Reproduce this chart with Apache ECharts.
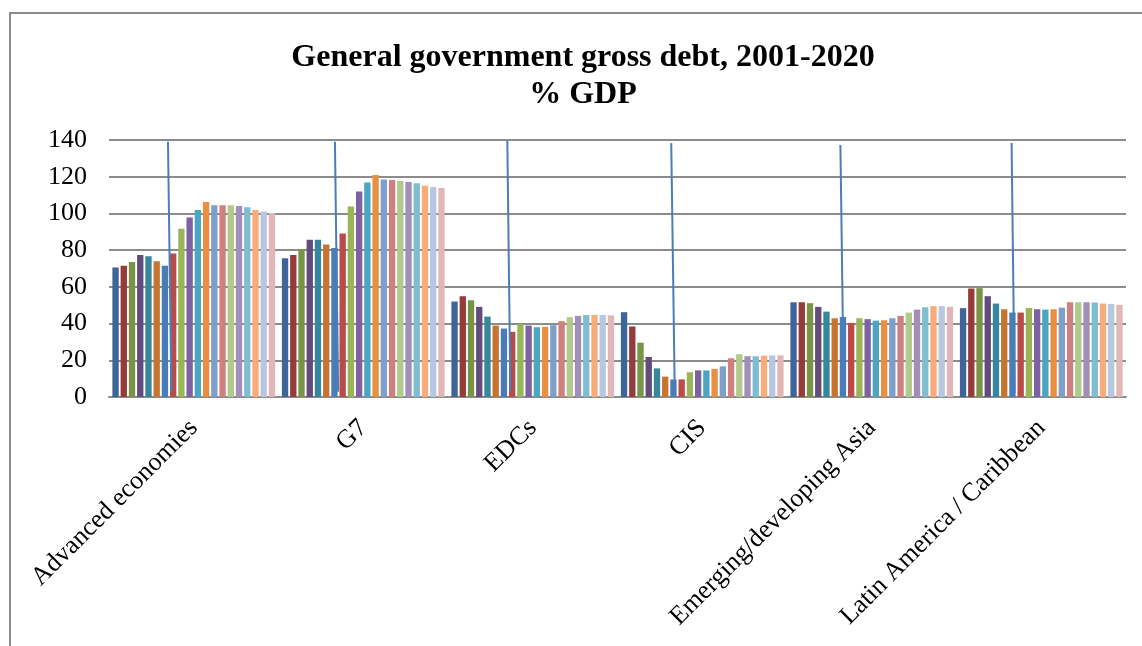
<!DOCTYPE html>
<html>
<head>
<meta charset="utf-8">
<title>General government gross debt, 2001-2020</title>
<script src="https://cdn.jsdelivr.net/npm/echarts@6/dist/echarts.min.js"></script>
<style>
  html, body { margin: 0; padding: 0; background: #fff; }
  #chart { width: 1142px; height: 646px; }
</style>
</head>
<body>
<div id="chart"></div>
<script>
// Regions on the category axis
const regions = ['Advanced economies', 'G7', 'EDCs', 'CIS', 'Emerging/developing Asia', 'Latin America / Caribbean'];

// One bar per year inside each region group
const years = ['2001', '2002', '2003', '2004', '2005', '2006', '2007', '2008', '2009', '2010',
               '2011', '2012', '2013', '2014', '2015', '2016', '2017', '2018', '2019', '2020'];

// Gross debt, % of GDP, 2001-2020, by region
const advanced = [70.5, 71.5, 73.5, 77.3, 76.7, 74.0, 71.5, 78.2, 91.6, 97.8, 101.8, 106.2, 104.4, 104.4, 104.4, 104.0, 103.3, 101.8, 101.1, 100.2];
const g7       = [75.6, 77.3, 80.5, 85.6, 85.6, 83.1, 81.1, 89.1, 103.8, 112.0, 116.9, 120.9, 118.5, 118.2, 117.6, 117.1, 116.4, 115.1, 114.4, 113.8];
const edcs     = [52.0, 54.9, 52.7, 49.1, 43.8, 38.9, 37.3, 35.5, 39.8, 38.9, 38.0, 38.2, 39.1, 41.3, 43.5, 44.2, 44.7, 44.7, 44.7, 44.5];
const cis      = [46.2, 38.4, 29.6, 21.8, 15.6, 11.1, 9.5, 9.6, 13.5, 14.5, 14.5, 15.3, 16.7, 21.1, 23.3, 22.2, 22.2, 22.5, 22.7, 22.7];
const asia     = [51.6, 51.6, 51.1, 49.1, 46.5, 42.9, 43.6, 40.4, 42.9, 42.4, 41.6, 41.8, 42.9, 44.2, 46.0, 47.6, 48.9, 49.5, 49.5, 49.1];
const latam    = [48.4, 59.1, 59.3, 54.9, 50.9, 47.8, 46.0, 46.0, 48.5, 47.8, 47.6, 47.8, 48.7, 51.6, 51.6, 51.6, 51.5, 50.9, 50.7, 50.2];

// Value-axis tick labels
const yTicks = [0, 20, 40, 60, 80, 100, 120, 140];

// Vertical pointer lines, one per region: [[x, % GDP] top, [x, % GDP] bottom], x in region units
const pointerLines = [
  [[0.348, 139.1], [0.368, 2.9]],
  [[1.333, 139.0], [1.352, 2.9]],
  [[2.350, 139.5], [2.368, 3.3]],
  [[3.317, 138.3], [3.338, 2.0]],
  [[4.315, 137.3], [4.335, 2.9]],
  [[5.325, 138.4], [5.343, 2.0]]
];

const palette = ['#3e6597', '#963b39', '#789445', '#634b7d', '#37879c', '#c8742f',
                 '#4a7cb8', '#b94b48', '#99b557', '#7d61a0', '#4ba7c0', '#ea8f3f',
                 '#7f9fcb', '#cf7f7d', '#b1c98a', '#a18eb9', '#7ebdd2', '#f9ac78',
                 '#b8c6e0', '#e0b7b6'];

const regionValues = [advanced, g7, edcs, cis, asia, latam];

const serif = '"Liberation Serif", "Times New Roman", serif';

const barSeries = years.map((yr, i) => ({
  name: yr,
  type: 'bar',
  xAxisIndex: 0,
  yAxisIndex: 0,
  barGap: '30%',
  barCategoryGap: '4%',
  itemStyle: { color: palette[i] },
  data: regionValues.map(v => v[i]),
  z: 2
}));

const chart = echarts.init(document.getElementById('chart'), null, { renderer: 'canvas' });

chart.setOption({
  animation: false,
  backgroundColor: '#ffffff',
  title: {
    text: 'General government gross debt, 2001-2020\n% GDP',
    left: 578,
    top: 34,
    textAlign: 'center',
    textStyle: {
      fontFamily: serif,
      fontWeight: 'bold',
      fontSize: 32,
      lineHeight: 37,
      color: '#000'
    }
  },
  graphic: [{
    type: 'rect',
    shape: { x: 10, y: 13, width: 1300, height: 800 },
    style: { fill: 'none', stroke: '#8c8c8c', lineWidth: 2 },
    silent: true,
    z: -1
  }],
  grid: { left: 109, right: 16, top: 140, bottom: 249, containLabel: false },
  xAxis: [{
    type: 'category',
    data: regions,
    axisLine: { show: true, lineStyle: { color: '#8c8c8c', width: 2 } },
    axisTick: { show: false },
    axisLabel: {
      rotate: 45,
      margin: 27,
      interval: 0,
      fontFamily: serif,
      fontSize: 26,
      color: '#000'
    },
    splitLine: { show: false }
  }, {
    type: 'value',
    min: 0,
    max: regions.length,
    show: false
  }],
  yAxis: {
    type: 'value',
    min: yTicks[0],
    max: yTicks[yTicks.length - 1],
    interval: 20,
    axisLine: { show: false },
    axisTick: { show: false },
    axisLabel: {
      margin: 22,
      fontFamily: serif,
      fontSize: 26,
      color: '#000'
    },
    splitLine: { show: true, lineStyle: { color: '#8c8c8c', width: 2 } }
  },
  series: barSeries.concat([{
    type: 'lines',
    coordinateSystem: 'cartesian2d',
    xAxisIndex: 1,
    yAxisIndex: 0,
    polyline: false,
    silent: true,
    z: 5,
    lineStyle: { color: '#4a7ebb', width: 2, opacity: 1 },
    data: pointerLines.map(seg => ({ coords: seg }))
  }])
});
</script>
</body>
</html>
